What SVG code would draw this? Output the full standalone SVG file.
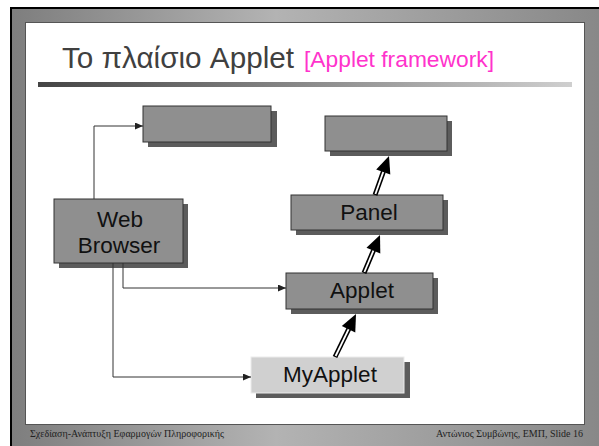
<svg xmlns="http://www.w3.org/2000/svg" width="599" height="446" viewBox="0 0 599 446">
<defs>
<linearGradient id="frame" x1="0" y1="0" x2="1" y2="0">
<stop offset="0" stop-color="#7e7e7e"/>
<stop offset="0.45" stop-color="#b3b3b3"/>
<stop offset="1" stop-color="#888888"/>
</linearGradient>
<linearGradient id="bar" x1="0" y1="0" x2="1" y2="0">
<stop offset="0" stop-color="#444444"/>
<stop offset="1" stop-color="#cfcfcf"/>
</linearGradient>
<marker id="arr" markerUnits="userSpaceOnUse" markerWidth="8" markerHeight="7" refX="8" refY="3.5" orient="auto">
<path d="M0,0 L8,3.5 L0,7 z" fill="#222"/>
</marker>
<style>
.box{fill:#8f8f8f;stroke:#333;stroke-width:1}
.lbox{fill:#d0d0d0;stroke:#ececec;stroke-width:1}
.shadow{fill:#5c5c5c}
.lbl{font-family:"Liberation Sans",Arial,sans-serif;font-size:22.5px;fill:#111;text-anchor:middle}
.conn{fill:none;stroke:#333;stroke-width:1}
.dblk{stroke:#000;stroke-width:5;fill:none}
.dwht{stroke:#fff;stroke-width:1.8;fill:none}
.foot{font-family:"Liberation Serif","Times New Roman",serif;font-size:10px;fill:#222}
</style>
</defs>
<g id="slide">
<rect x="10" y="7" width="589" height="439" fill="#000"/>
<rect x="12" y="9" width="587" height="437" fill="url(#frame)"/>
<rect x="25.5" y="22.5" width="559" height="402" fill="#fff" stroke="#555" stroke-width="1"/>
<text x="62" y="68" font-family="&quot;Liberation Sans&quot;,Arial,sans-serif" font-size="29" fill="#404040" textLength="232" lengthAdjust="spacingAndGlyphs">Το πλαίσιο Applet</text>
<text x="304" y="67" font-family="&quot;Liberation Sans&quot;,Arial,sans-serif" font-size="22.5" fill="#ff33cc" textLength="190" lengthAdjust="spacingAndGlyphs">[Applet framework]</text>
<rect x="38" y="82" width="534" height="5" fill="url(#bar)"/>
<text class="foot" x="30" y="437">Σχεδίαση-Ανάπτυξη Εφαρμογών Πληροφορικής</text>
<text class="foot" x="583" y="437" text-anchor="end">Αντώνιος Συμβώνης, ΕΜΠ, Slide 16</text>
</g>
<g id="node-topleft">
<rect class="shadow" x="148" y="111" width="129" height="36"/>
<rect class="box" x="143" y="106" width="128" height="36"/>
</g>
<g id="node-topright">
<rect class="shadow" x="330" y="121" width="122" height="35"/>
<rect class="box" x="325" y="116" width="122" height="35"/>
</g>
<g id="node-webbrowser">
<rect class="shadow" x="59" y="204" width="129" height="64"/>
<rect class="box" x="54" y="199" width="129" height="64"/>
<text class="lbl" x="120" y="227">Web</text>
<text class="lbl" x="119" y="253">Browser</text>
</g>
<g id="node-panel">
<rect class="shadow" x="296" y="200" width="152" height="35"/>
<rect class="box" x="291" y="195" width="152" height="35"/>
<text class="lbl" x="369" y="220">Panel</text>
</g>
<g id="node-applet">
<rect class="shadow" x="291" y="278" width="147" height="36"/>
<rect class="box" x="286" y="273" width="147" height="36"/>
<text class="lbl" x="362" y="298">Applet</text>
</g>
<g id="node-myapplet">
<rect class="shadow" x="256" y="362" width="154" height="36"/>
<rect class="lbox" x="251" y="357" width="153" height="36"/>
<text class="lbl" x="330" y="382">MyApplet</text>
</g>
<g id="connectors">
<path class="conn" d="M94,199 V126 H143" marker-end="url(#arr)"/>
<path class="conn" d="M123,263 V288 H286" marker-end="url(#arr)"/>
<path class="conn" d="M113,263 V377 H251" marker-end="url(#arr)"/>
<line class="dblk" x1="335" y1="357" x2="348.8" y2="328.8"/>
<line class="dwht" x1="335.6" y1="356" x2="348.8" y2="328.8"/>
<polygon points="356,314 355.28,332.57 341.8,325.99" fill="#000"/>
<line class="dblk" x1="364" y1="273" x2="373.6" y2="250.2"/>
<line class="dwht" x1="364.4" y1="272" x2="373.6" y2="250.2"/>
<polygon points="380,235 380.31,253.58 366.49,247.76" fill="#000"/>
<line class="dblk" x1="375" y1="195" x2="383.4" y2="171.6"/>
<line class="dwht" x1="375.4" y1="194" x2="383.4" y2="171.6"/>
<polygon points="389,156 390.32,174.53 376.2,169.47" fill="#000"/>
</g>
</svg>
